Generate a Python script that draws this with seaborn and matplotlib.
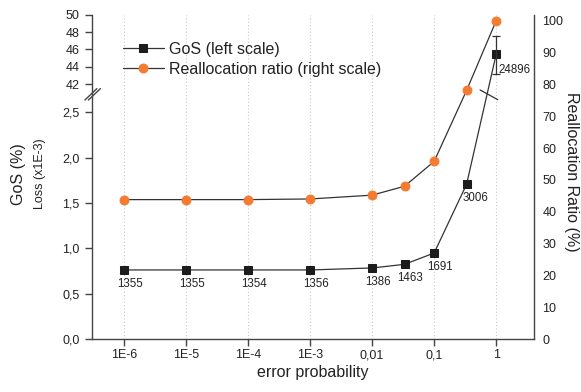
import numpy as np
import pandas as pd
import matplotlib
matplotlib.use("Agg")
import matplotlib.pyplot as plt
from matplotlib.ticker import NullLocator
import seaborn as sns

# ---------------- data ----------------
error_prob = [1e-6, 1e-5, 1e-4, 1e-3, 1e-2, 1 / 30, 1e-1, 1 / 3, 1.0]
gos_value = [0.762, 0.762, 0.762, 0.762, 0.784, 0.824, 0.949, 1.707, 45.45]
gos_point_labels = ["1355", "1355", "1354", "1356", "1386", "1463", "1691", "3006", "24896"]
realloc_ratio = [43.8, 43.8, 43.8, 44.0, 45.2, 48.0, 55.8, 78.1, 100.0]
gos_err_x = [1.0]
gos_err_center = [45.45]
gos_err_low = [43.2]
gos_err_high = [47.6]

x_ticks = [1e-6, 1e-5, 1e-4, 1e-3, 1e-2, 1e-1, 1.0]
x_ticklabels = ["1E-6", "1E-5", "1E-4", "1E-3", "0,01", "0,1", "1"]
left_ticks = [0, 0.5, 1.0, 1.5, 2.0, 2.5, 42, 44, 46, 48, 50]
left_ticklabels = ["0,0", "0,5", "1,0", "1,5", "2,0", "2,5", "42", "44", "46", "48", "50"]
right_ticks = [0, 10, 20, 30, 40, 50, 60, 70, 80, 90, 100]

df_gos = pd.DataFrame({"p": error_prob, "v": gos_value})
df_rr = pd.DataFrame({"p": error_prob, "v": realloc_ratio})

# ---------------- style ----------------
sns.set_theme(style="white")
plt.rcParams["font.family"] = ["Liberation Sans", "DejaVu Sans"]
TXT = "#222222"
SPINE = "#444444"
ORANGE = "#F47B30"
DARK = "#1c1c1c"
LINE = "#333333"

# broken left scale: 0..2.7 linear, 41.2..50 compressed above
LO_TOP, UP_BOT, U_UP0, UP_SLOPE = 2.7, 41.2, 2.811, 0.096
U_UPBOT = U_UP0 + (UP_BOT - 42) * UP_SLOPE


def fwd(y):
    y = np.asarray(y, dtype=float)
    gap = LO_TOP + (y - LO_TOP) * (U_UPBOT - LO_TOP) / (UP_BOT - LO_TOP)
    up = U_UP0 + (y - 42) * UP_SLOPE
    return np.where(y <= LO_TOP, y, np.where(y <= UP_BOT, gap, up))


def inv(u):
    u = np.asarray(u, dtype=float)
    gap = LO_TOP + (u - LO_TOP) * (UP_BOT - LO_TOP) / (U_UPBOT - LO_TOP)
    up = 42 + (u - U_UP0) / UP_SLOPE
    return np.where(u <= LO_TOP, u, np.where(u <= U_UPBOT, gap, up))


W, H = 581, 392
fig = plt.figure(figsize=(W / 100, H / 100), dpi=100)
fig.patch.set_facecolor("white")
ax = fig.add_axes([92 / W, 1 - 339 / H, 442 / W, 324.3 / H])
ax.set_xscale("log")
ax.set_yscale("function", functions=(fwd, inv))

sns.lineplot(data=df_gos, x="p", y="v", ax=ax, color=LINE, linewidth=0.9,
             marker="s", markersize=5.3, markerfacecolor=DARK, markeredgecolor=DARK,
             label="GoS (left scale)", zorder=3)
ax.errorbar(gos_err_x, gos_err_center,
            yerr=[[c - l for c, l in zip(gos_err_center, gos_err_low)],
                  [h - c for c, h in zip(gos_err_center, gos_err_high)]],
            fmt="none", ecolor=LINE, elinewidth=0.9, capsize=2.6, capthick=0.9, zorder=3)

ax.set_xlim(10 ** -6.516, 10 ** 0.61)
ax.set_ylim(0, 50)
ax.set_xticks(x_ticks)
ax.set_xticklabels(x_ticklabels)
ax.xaxis.set_minor_locator(NullLocator())
ax.set_yticks(left_ticks)
ax.set_yticklabels(left_ticklabels)
ax.yaxis.set_minor_locator(NullLocator())
ax.grid(axis="x", color="#c8c8c8", linestyle=(0, (1, 2)), linewidth=0.8)
ax.grid(axis="y", visible=False)
ax.tick_params(axis="both", which="major", direction="out", length=5, width=1.0,
               color=SPINE, labelsize=9, labelcolor=TXT)
ax.tick_params(axis="x", pad=2.5, bottom=True)
ax.tick_params(axis="y", pad=4, left=True)
for s in ["top", "right"]:
    ax.spines[s].set_visible(False)
for s in ["left", "bottom"]:
    ax.spines[s].set_color(SPINE)
    ax.spines[s].set_linewidth(1.0)
ax.set_xlabel("")
ax.set_ylabel("")

# point labels
for i, (px, py, lab) in enumerate(zip(error_prob, gos_value, gos_point_labels)):
    if i == len(error_prob) - 1:
        off = (13.5, -11)
    elif i == len(error_prob) - 2:
        off = (6.5, -10)
    else:
        off = (4.3, -10)
    ax.annotate(lab, (px, py), xytext=off, textcoords="offset points",
                ha="center", va="center", fontsize=8.3, color=TXT, zorder=4)

# right axis
ax2 = ax.twinx()
sns.lineplot(data=df_rr, x="p", y="v", ax=ax2, color=LINE, linewidth=0.9,
             marker="o", markersize=6.4, markerfacecolor=ORANGE, markeredgecolor=ORANGE,
             label="Reallocation ratio (right scale)", zorder=3)
ax2.set_ylim(0, 101.9)
ax2.set_yticks(right_ticks)
ax2.yaxis.set_minor_locator(NullLocator())
ax2.tick_params(axis="y", length=0, pad=6, labelsize=9, labelcolor=TXT)
ax2.set_ylabel("")
ax2.set_xlabel("")
for s in ["top", "left", "bottom"]:
    ax2.spines[s].set_visible(False)
ax2.spines["right"].set_color(SPINE)
ax2.spines["right"].set_linewidth(1.0)

# legend
h1, l1 = ax.get_legend_handles_labels()
h2, l2 = ax2.get_legend_handles_labels()
if ax.get_legend() is not None:
    ax.get_legend().remove()
if ax2.get_legend() is not None:
    ax2.get_legend().remove()
leg = ax2.legend(h1 + h2, l1 + l2, loc="upper left", bbox_to_anchor=(0.070, 0.916),
                 frameon=False, fontsize=11.5, handlelength=2.55, handletextpad=0.35,
                 borderpad=0, borderaxespad=0, labelspacing=0.3)
for t in leg.get_texts():
    t.set_color(TXT)

# axis break marks on left spine
for dx in (0.0, 0.008):
    ax.plot([-0.016 + dx, 0.011 + dx], [0.737, 0.772], transform=ax.transAxes,
            color=SPINE, linewidth=1.0, clip_on=False, zorder=5)
# break mark on the GoS line
ax.plot([0.878, 0.918], [0.768, 0.738], transform=ax.transAxes,
        color=LINE, linewidth=0.9, clip_on=False, zorder=5)

# axis titles
fig.text(18 / W, 1 - 174 / H, "GoS (%)", rotation=90, ha="center", va="center",
         fontsize=11.5, color=TXT)
fig.text(40 / W, 1 - 174 / H, "Loss (x1E-3)", rotation=90, ha="center", va="center",
         fontsize=9, color=TXT)
fig.text(572 / W, 1 - 172 / H, "Reallocation Ratio (%)", rotation=270, ha="center",
         va="center", fontsize=11.5, color=TXT)
fig.text((92 + 221) / W, 1 - 373 / H, "error probability", ha="center", va="center",
         fontsize=11.5, color=TXT)

fig.savefig("out.png", dpi=100, facecolor="white")
